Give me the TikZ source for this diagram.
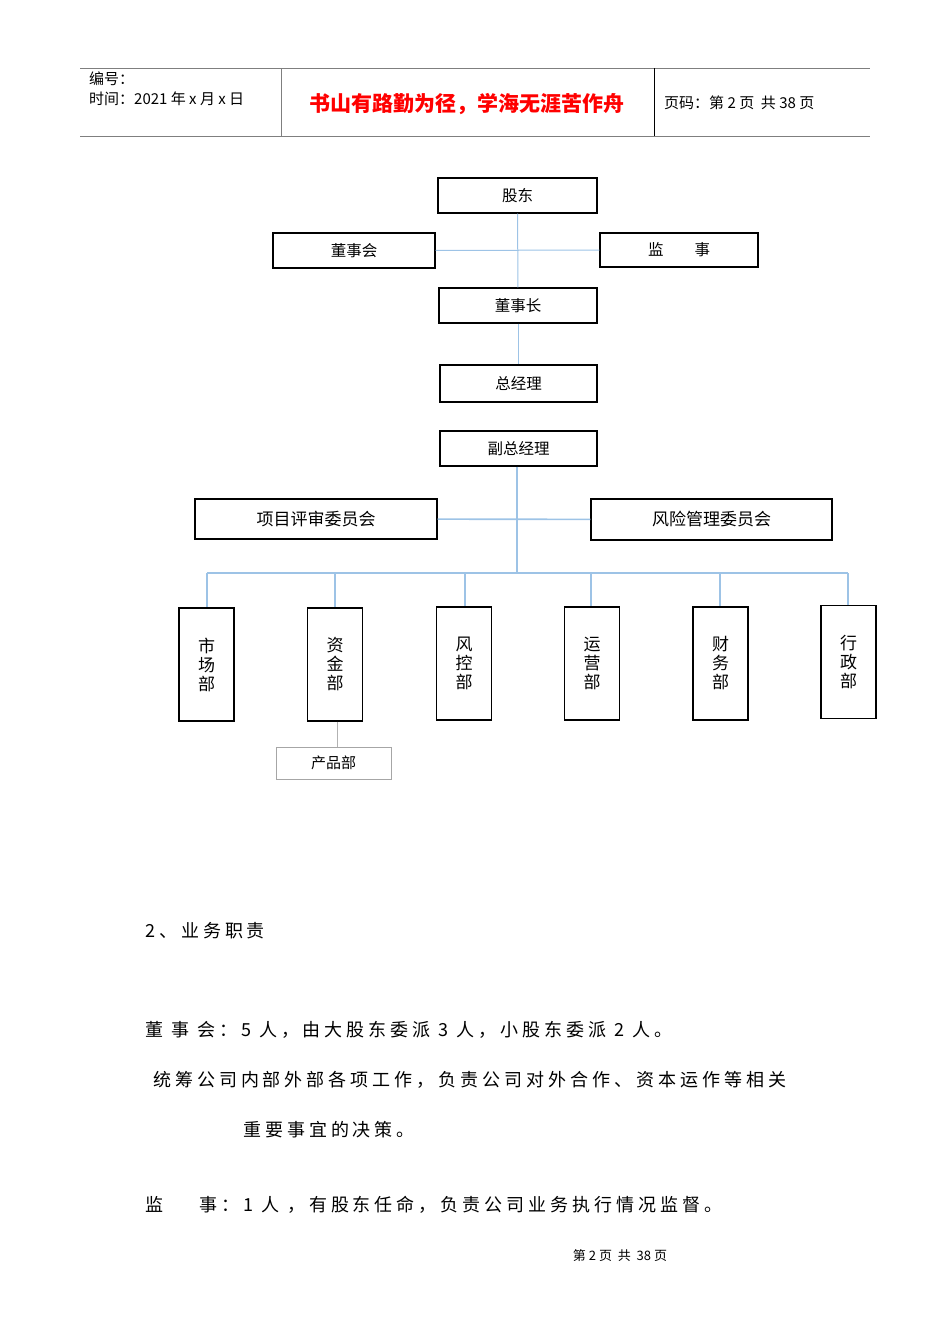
\documentclass[tikz,border=0pt]{standalone}
\usepackage{fontspec}
\setmainfont{Noto Sans CJK SC}
\newfontfamily\cjk{Noto Sans CJK SC}
\newfontfamily\bodyf{Noto Sans CJK SC}[LetterSpace=22]
\definecolor{conn}{HTML}{9DC3E6}
\definecolor{hdr}{HTML}{7F7F7F}
\begin{document}
\begin{tikzpicture}[x=1pt,y=-1pt,
  box/.style={draw=black,line width=1.3pt,font=\fontsize{15.5}{17}\selectfont,inner sep=0pt},
  vbox/.style={draw=black,line width=1.3pt,font=\fontsize{17}{19}\selectfont,align=center,inner sep=0pt,minimum width=55pt,minimum height=113pt},
  link/.style={draw=conn,line width=1.6pt},
  body/.style={anchor=west,inner sep=0pt,font=\bodyf\fontsize{18}{20}\selectfont}]
\useasboundingbox (0,0) rectangle (950,1344);
% header
\draw[hdr,line width=1pt] (80,68) -- (870,68) (80,136) -- (870,136);
\draw[hdr,line width=0.8pt] (281,68) -- (281,136);
\draw[black,line width=0.8pt] (654,68) -- (654,136);
\node[anchor=west,inner sep=0pt,align=left,font=\fontsize{15}{20}\selectfont] (h1) at (89,89) {编号：\\时间：2021 年 x 月 x 日};
\node[inner sep=0pt,text=red,font=\bfseries\fontsize{21}{23}\selectfont] (h2) at (467,104) {书山有路勤为径，学海无涯苦作舟};
\node[anchor=west,inner sep=0pt,font=\fontsize{15}{17}\selectfont] (h3) at (664,103) {页码：第 2 页\ \ 共 38 页};
% org nodes
\node[box,minimum width=159pt,minimum height=35pt] (gd) at (517.5,195.5) {股东};
\node[box,minimum width=162pt,minimum height=35pt] (dsh) at (354,250.5) {董事会};
\node[box,minimum width=158pt,minimum height=34pt] (js) at (679,250) {监\qquad 事};
\node[box,minimum width=158pt,minimum height=35pt] (dsz) at (518,305.5) {董事长};
\node[box,minimum width=157pt,minimum height=37pt] (zjl) at (518.5,383.5) {总经理};
\node[box,minimum width=157pt,minimum height=35pt] (fz) at (518.5,448.5) {副总经理};
\node[box,minimum width=242pt,minimum height=40pt,font=\fontsize{17}{19}\selectfont] (xm) at (316,519) {项目评审委员会};
\node[box,minimum width=241pt,minimum height=41pt,font=\fontsize{17}{19}\selectfont] (fx) at (711.5,519.5) {风险管理委员会};
\node[vbox] (d1) at (206.5,664.5) {市\\场\\部};
\node[vbox] (d2) at (335,664.5) {资\\金\\部};
\node[vbox] (d3) at (464,663.5) {风\\控\\部};
\node[vbox] (d4) at (592,663.5) {运\\营\\部};
\node[vbox] (d5) at (720.5,663.5) {财\\务\\部};
\node[vbox] (d6) at (848.5,662) {行\\政\\部};
\node[draw=gray!70,line width=0.8pt,minimum width=115pt,minimum height=32pt,inner sep=0pt,font=\fontsize{15}{17}\selectfont] (cp) at (333.5,763) {产品部};
% connectors
\draw[link,line width=1pt] (gd) -- (dsz);
\draw[link,line width=1pt] (dsh) -- (js);
\draw[link,line width=1pt] (dsz) -- (dsz|-zjl.north);
\coordinate (bus) at (517,573);
\draw[link] (fz.south -| bus) -- (bus);
\draw[link] (xm) -- (fx);
\coordinate (bl) at (207,573);
\coordinate (br) at (848,573);
\draw[link] (bl) -- (br);
\foreach \d/\x in {d1/207,d2/335,d3/465,d4/591,d5/720,d6/848}
  \draw[link] (\x,573) -- (\x,0|-\d.north);
\draw[gray!60,line width=0.6pt] (d2.south -| 337,0) -- (cp.north -| 337,0);
% body text
\node[body] (t1) at (145,931) {2、业务职责};
\node[body] (t2) at (145,1030) {董\ 事\ 会：5 人，由大股东委派 3 人，小股东委派 2 人。};
\node[body] (t3) at (153,1080) {统筹公司内部外部各项工作，负责公司对外合作、资本运作等相关};
\node[body] (t4) at (243,1130) {重要事宜的决策。};
\node[body] (t5) at (145,1205) {监\qquad 事：1 人 ，有股东任命，负责公司业务执行情况监督。};
\node[inner sep=0pt,font=\fontsize{13}{15}\selectfont] (ft) at (620,1256) {第\ 2\ 页\ \ 共\ \ 38\ 页};
\end{tikzpicture}
\end{document}
